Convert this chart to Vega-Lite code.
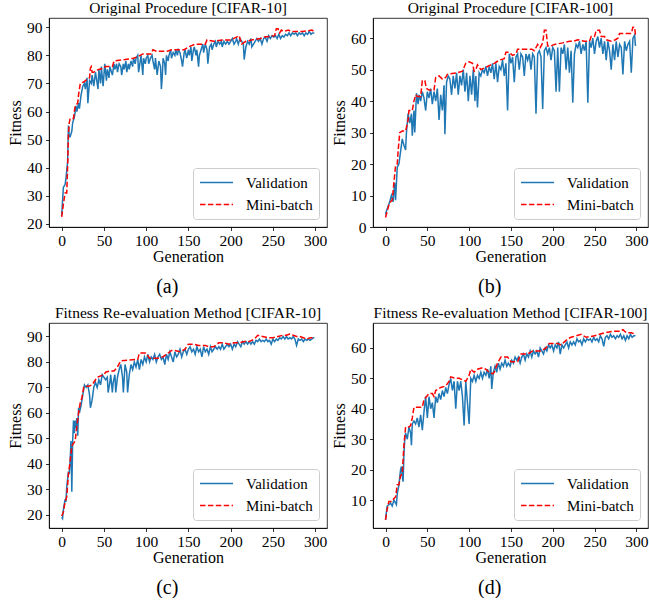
{
"$schema": "https://vega.github.io/schema/vega-lite/v6.json",
"padding": {"left": 7, "top": 0, "right": 0, "bottom": 0},
"background": "white",
"datasets": {
"aV": [{"g":0,"f":23},{"g":1,"f":28},{"g":2,"f":33},{"g":4,"f":34},{"g":5,"f":36},{"g":7,"f":42},{"g":8,"f":55},{"g":9,"f":51},{"g":10,"f":51},{"g":12,"f":53},{"g":13,"f":56},{"g":15,"f":58},{"g":17,"f":62},{"g":18,"f":60},{"g":20,"f":63},{"g":21,"f":61},{"g":23,"f":66},{"g":25,"f":69},{"g":27,"f":70},{"g":28,"f":68},{"g":30,"f":72},{"g":31,"f":63},{"g":33,"f":71},{"g":35,"f":70},{"g":36,"f":73},{"g":38,"f":69},{"g":40,"f":74},{"g":41,"f":72},{"g":43,"f":68},{"g":44,"f":75},{"g":46,"f":70},{"g":47,"f":76},{"g":49,"f":69},{"g":50,"f":73},{"g":51,"f":77},{"g":53,"f":71},{"g":54,"f":75},{"g":56,"f":72},{"g":57,"f":76},{"g":59,"f":74},{"g":60,"f":73},{"g":62,"f":77},{"g":63,"f":75},{"g":65,"f":77},{"g":66,"f":74},{"g":68,"f":77},{"g":70,"f":76},{"g":71,"f":73},{"g":73,"f":77},{"g":74,"f":75},{"g":76,"f":78},{"g":77,"f":74},{"g":79,"f":77},{"g":80,"f":75},{"g":82,"f":78},{"g":84,"f":76},{"g":85,"f":79},{"g":87,"f":77},{"g":88,"f":79},{"g":90,"f":80},{"g":91,"f":74},{"g":93,"f":78},{"g":94,"f":80},{"g":96,"f":73},{"g":97,"f":79},{"g":99,"f":77},{"g":100,"f":79},{"g":102,"f":80},{"g":103,"f":77},{"g":105,"f":79},{"g":107,"f":80},{"g":108,"f":78},{"g":110,"f":75},{"g":111,"f":79},{"g":113,"f":73},{"g":115,"f":78},{"g":117,"f":76},{"g":118,"f":68},{"g":119,"f":72},{"g":120,"f":79},{"g":122,"f":77},{"g":123,"f":73},{"g":124,"f":80},{"g":126,"f":78},{"g":127,"f":80},{"g":129,"f":82},{"g":130,"f":79},{"g":132,"f":81},{"g":134,"f":80},{"g":135,"f":82},{"g":137,"f":80},{"g":138,"f":82},{"g":140,"f":81},{"g":142,"f":78},{"g":143,"f":76},{"g":145,"f":81},{"g":146,"f":82},{"g":148,"f":79},{"g":150,"f":82},{"g":151,"f":80},{"g":153,"f":83},{"g":154,"f":78},{"g":156,"f":82},{"g":157,"f":83},{"g":159,"f":80},{"g":160,"f":82},{"g":162,"f":76},{"g":163,"f":80},{"g":165,"f":82},{"g":167,"f":84},{"g":168,"f":81},{"g":170,"f":84},{"g":172,"f":82},{"g":173,"f":77},{"g":175,"f":83},{"g":177,"f":84},{"g":178,"f":82},{"g":180,"f":84},{"g":182,"f":85},{"g":183,"f":83},{"g":185,"f":85},{"g":187,"f":84},{"g":189,"f":85},{"g":190,"f":83},{"g":192,"f":85},{"g":194,"f":84},{"g":196,"f":85},{"g":198,"f":84},{"g":200,"f":85},{"g":202,"f":86},{"g":204,"f":84},{"g":206,"f":85},{"g":207,"f":86},{"g":209,"f":84},{"g":211,"f":86},{"g":213,"f":85},{"g":215,"f":84},{"g":216,"f":78.5},{"g":218,"f":83},{"g":220,"f":85},{"g":222,"f":84},{"g":224,"f":86},{"g":225,"f":83},{"g":227,"f":84},{"g":229,"f":85},{"g":231,"f":86},{"g":233,"f":85},{"g":235,"f":86},{"g":237,"f":84},{"g":239,"f":86},{"g":241,"f":86.5},{"g":243,"f":85},{"g":245,"f":87},{"g":247,"f":86},{"g":249,"f":87},{"g":251,"f":86.5},{"g":253,"f":87},{"g":255,"f":86},{"g":257,"f":87.5},{"g":259,"f":86},{"g":261,"f":87},{"g":263,"f":86.5},{"g":265,"f":87.5},{"g":267,"f":87},{"g":269,"f":88},{"g":271,"f":87},{"g":273,"f":88},{"g":275,"f":87.5},{"g":277,"f":88},{"g":279,"f":87},{"g":281,"f":88},{"g":283,"f":87.5},{"g":285,"f":88},{"g":287,"f":87},{"g":289,"f":88},{"g":291,"f":87.5},{"g":293,"f":88.5},{"g":295,"f":87.5},{"g":297,"f":88},{"g":299,"f":88}],
"aM": [{"g":0,"f":22.5},{"g":2,"f":27},{"g":4,"f":31},{"g":6,"f":31},{"g":7,"f":40},{"g":8,"f":52},{"g":9,"f":56},{"g":10,"f":57.5},{"g":14,"f":57.5},{"g":15,"f":60},{"g":16,"f":62},{"g":19,"f":63},{"g":20,"f":66},{"g":22,"f":70},{"g":26,"f":70.5},{"g":28,"f":71},{"g":33,"f":72},{"g":34,"f":75.5},{"g":35,"f":76},{"g":36,"f":74},{"g":38,"f":74},{"g":40,"f":74.5},{"g":44,"f":75},{"g":50,"f":75.5},{"g":52,"f":76},{"g":60,"f":76},{"g":62,"f":78},{"g":75,"f":78.5},{"g":85,"f":79},{"g":90,"f":79.5},{"g":96,"f":80.5},{"g":106,"f":80.5},{"g":108,"f":82},{"g":112,"f":81.5},{"g":125,"f":81.5},{"g":130,"f":82},{"g":145,"f":82},{"g":150,"f":83},{"g":158,"f":84},{"g":170,"f":84},{"g":172,"f":85.5},{"g":180,"f":85},{"g":190,"f":85.5},{"g":200,"f":85.5},{"g":207,"f":86.5},{"g":210,"f":87},{"g":213,"f":84},{"g":218,"f":85},{"g":225,"f":85.5},{"g":235,"f":86},{"g":240,"f":86.5},{"g":252,"f":87},{"g":254,"f":89.5},{"g":256,"f":89.5},{"g":258,"f":88},{"g":260,"f":89},{"g":263,"f":88.5},{"g":268,"f":89},{"g":272,"f":88.5},{"g":285,"f":88.5},{"g":292,"f":88.8},{"g":296,"f":89},{"g":299,"f":88.5}],
"bV": [{"g":0,"f":4},{"g":1,"f":5},{"g":3,"f":6.5},{"g":5,"f":8},{"g":7,"f":10},{"g":9,"f":8},{"g":11,"f":14},{"g":12,"f":8.5},{"g":14,"f":19},{"g":16,"f":20},{"g":18,"f":24},{"g":20,"f":28},{"g":22,"f":26},{"g":24,"f":24.5},{"g":25,"f":30},{"g":27,"f":36},{"g":29,"f":33},{"g":31,"f":36},{"g":32,"f":29},{"g":34,"f":37},{"g":35,"f":30},{"g":37,"f":42.5},{"g":39,"f":39},{"g":40,"f":42},{"g":42,"f":40},{"g":44,"f":43},{"g":46,"f":41},{"g":48,"f":37},{"g":50,"f":43},{"g":52,"f":41},{"g":54,"f":44},{"g":56,"f":39},{"g":58,"f":43},{"g":60,"f":40},{"g":62,"f":44},{"g":64,"f":34},{"g":66,"f":42},{"g":68,"f":37},{"g":70,"f":45},{"g":71,"f":29.5},{"g":73,"f":46},{"g":75,"f":48},{"g":77,"f":47},{"g":79,"f":42},{"g":81,"f":48},{"g":83,"f":44},{"g":85,"f":49},{"g":87,"f":42},{"g":89,"f":48},{"g":91,"f":45},{"g":93,"f":50},{"g":95,"f":43},{"g":97,"f":49},{"g":99,"f":40},{"g":101,"f":48},{"g":103,"f":42},{"g":105,"f":50},{"g":107,"f":40},{"g":108,"f":48},{"g":110,"f":38},{"g":112,"f":49},{"g":114,"f":48},{"g":116,"f":50},{"g":118,"f":49},{"g":120,"f":51},{"g":122,"f":48},{"g":124,"f":51},{"g":126,"f":49},{"g":128,"f":52},{"g":130,"f":47},{"g":132,"f":52},{"g":134,"f":46},{"g":136,"f":51},{"g":138,"f":50},{"g":140,"f":53},{"g":142,"f":48},{"g":144,"f":52},{"g":146,"f":37},{"g":148,"f":55},{"g":150,"f":52},{"g":152,"f":54},{"g":154,"f":46},{"g":156,"f":54},{"g":158,"f":55},{"g":160,"f":50},{"g":162,"f":55},{"g":164,"f":54},{"g":166,"f":48},{"g":168,"f":55},{"g":170,"f":53},{"g":172,"f":55},{"g":174,"f":50},{"g":176,"f":55},{"g":178,"f":54},{"g":180,"f":36},{"g":182,"f":55},{"g":184,"f":56},{"g":186,"f":54},{"g":188,"f":37.5},{"g":190,"f":56},{"g":192,"f":57},{"g":194,"f":55},{"g":196,"f":57},{"g":198,"f":53},{"g":200,"f":57},{"g":202,"f":56},{"g":204,"f":43},{"g":206,"f":57},{"g":208,"f":43},{"g":210,"f":57},{"g":212,"f":55},{"g":214,"f":58},{"g":216,"f":50},{"g":218,"f":57},{"g":220,"f":49},{"g":222,"f":56},{"g":224,"f":39.5},{"g":226,"f":55},{"g":228,"f":58},{"g":230,"f":57},{"g":232,"f":59},{"g":234,"f":55},{"g":236,"f":58},{"g":238,"f":56},{"g":240,"f":59},{"g":242,"f":39.5},{"g":244,"f":59},{"g":246,"f":57},{"g":248,"f":60},{"g":250,"f":55},{"g":252,"f":59},{"g":254,"f":60.5},{"g":256,"f":57},{"g":258,"f":60},{"g":260,"f":55},{"g":262,"f":59},{"g":264,"f":53},{"g":266,"f":59},{"g":268,"f":56},{"g":270,"f":50},{"g":272,"f":58},{"g":274,"f":53},{"g":276,"f":59},{"g":278,"f":54},{"g":280,"f":58},{"g":282,"f":57},{"g":284,"f":48.5},{"g":286,"f":59},{"g":288,"f":56},{"g":290,"f":58},{"g":292,"f":59},{"g":294,"f":49},{"g":296,"f":60},{"g":298,"f":61},{"g":299,"f":57.5}],
"bM": [{"g":0,"f":3},{"g":2,"f":5},{"g":4,"f":7},{"g":6,"f":8},{"g":8,"f":8.5},{"g":10,"f":14},{"g":12,"f":19.5},{"g":14,"f":20},{"g":15,"f":24},{"g":17,"f":30},{"g":20,"f":30.5},{"g":24,"f":30.5},{"g":27,"f":34},{"g":28,"f":37},{"g":32,"f":37},{"g":34,"f":40},{"g":36,"f":42},{"g":38,"f":41.5},{"g":42,"f":41.5},{"g":44,"f":46.5},{"g":47,"f":46.5},{"g":49,"f":44},{"g":52,"f":43.5},{"g":58,"f":43.5},{"g":60,"f":47.5},{"g":64,"f":48},{"g":68,"f":47},{"g":72,"f":47.5},{"g":74,"f":48.5},{"g":86,"f":49},{"g":92,"f":49.5},{"g":96,"f":52},{"g":100,"f":52.5},{"g":104,"f":52},{"g":106,"f":49.5},{"g":108,"f":50},{"g":110,"f":51.5},{"g":114,"f":50},{"g":118,"f":50.5},{"g":122,"f":51},{"g":126,"f":51.5},{"g":130,"f":52},{"g":133,"f":52.5},{"g":136,"f":53},{"g":142,"f":53.5},{"g":144,"f":55.5},{"g":148,"f":55.5},{"g":150,"f":55},{"g":152,"f":54.5},{"g":156,"f":55},{"g":158,"f":56.5},{"g":162,"f":56.5},{"g":175,"f":56.5},{"g":178,"f":56},{"g":182,"f":58},{"g":185,"f":57},{"g":188,"f":58.5},{"g":190,"f":62.5},{"g":192,"f":62.5},{"g":194,"f":57.5},{"g":198,"f":57.5},{"g":202,"f":58},{"g":212,"f":58.5},{"g":220,"f":59},{"g":225,"f":59},{"g":230,"f":59.5},{"g":238,"f":59},{"g":244,"f":59},{"g":246,"f":60.5},{"g":250,"f":60.5},{"g":252,"f":62.5},{"g":256,"f":62.5},{"g":258,"f":60.5},{"g":262,"f":60.5},{"g":264,"f":59.5},{"g":270,"f":59},{"g":275,"f":59.5},{"g":278,"f":60},{"g":280,"f":61.5},{"g":294,"f":61.5},{"g":296,"f":63.5},{"g":298,"f":63.5},{"g":299,"f":61}],
"cV": [{"g":0,"f":19},{"g":1,"f":18.5},{"g":2,"f":22},{"g":4,"f":26},{"g":5,"f":25},{"g":6,"f":31},{"g":7,"f":34},{"g":8,"f":37},{"g":9,"f":36},{"g":10,"f":41},{"g":11,"f":49},{"g":12,"f":29},{"g":13,"f":49},{"g":14,"f":57},{"g":15,"f":52},{"g":16,"f":57},{"g":17,"f":54},{"g":18,"f":58},{"g":19,"f":51},{"g":20,"f":62},{"g":21,"f":60},{"g":23,"f":63},{"g":25,"f":67},{"g":27,"f":71},{"g":29,"f":70},{"g":31,"f":71},{"g":33,"f":67},{"g":34,"f":62},{"g":36,"f":65},{"g":38,"f":70},{"g":40,"f":72},{"g":42,"f":70},{"g":44,"f":73},{"g":46,"f":71},{"g":48,"f":75},{"g":50,"f":74},{"g":52,"f":73},{"g":54,"f":74},{"g":55,"f":68},{"g":57,"f":72},{"g":58,"f":75},{"g":60,"f":68},{"g":61,"f":72},{"g":63,"f":75},{"g":64,"f":68},{"g":66,"f":74},{"g":68,"f":77},{"g":70,"f":79},{"g":72,"f":74},{"g":73,"f":68},{"g":75,"f":79},{"g":77,"f":76},{"g":78,"f":68},{"g":80,"f":75},{"g":82,"f":79},{"g":84,"f":77},{"g":86,"f":80},{"g":88,"f":78},{"g":90,"f":81},{"g":92,"f":77},{"g":94,"f":81},{"g":96,"f":79},{"g":98,"f":82},{"g":100,"f":80},{"g":102,"f":83},{"g":104,"f":80},{"g":106,"f":82},{"g":108,"f":81},{"g":110,"f":83},{"g":112,"f":80},{"g":114,"f":82},{"g":116,"f":83},{"g":118,"f":81},{"g":120,"f":82},{"g":122,"f":79},{"g":124,"f":83},{"g":126,"f":81},{"g":128,"f":84},{"g":130,"f":82},{"g":132,"f":80},{"g":134,"f":84},{"g":136,"f":82},{"g":138,"f":83},{"g":140,"f":85},{"g":142,"f":82},{"g":144,"f":84},{"g":146,"f":85},{"g":148,"f":83},{"g":150,"f":85},{"g":152,"f":86},{"g":154,"f":84},{"g":156,"f":85},{"g":158,"f":83},{"g":160,"f":86},{"g":162,"f":84},{"g":164,"f":85},{"g":166,"f":82},{"g":168,"f":86},{"g":170,"f":84},{"g":172,"f":85},{"g":174,"f":83},{"g":176,"f":86},{"g":178,"f":84},{"g":180,"f":85},{"g":182,"f":86},{"g":184,"f":85},{"g":186,"f":86},{"g":188,"f":85},{"g":190,"f":87},{"g":192,"f":85},{"g":194,"f":86},{"g":196,"f":87},{"g":198,"f":86},{"g":200,"f":87},{"g":202,"f":85},{"g":204,"f":87},{"g":206,"f":86},{"g":208,"f":88},{"g":210,"f":87},{"g":212,"f":86},{"g":214,"f":88},{"g":216,"f":87},{"g":218,"f":88},{"g":220,"f":87},{"g":222,"f":88},{"g":224,"f":87},{"g":226,"f":88},{"g":228,"f":87},{"g":230,"f":88.5},{"g":232,"f":88},{"g":234,"f":89},{"g":236,"f":88},{"g":238,"f":88.5},{"g":240,"f":88},{"g":242,"f":89},{"g":244,"f":88},{"g":246,"f":88.5},{"g":248,"f":87},{"g":250,"f":89},{"g":252,"f":88},{"g":254,"f":89},{"g":256,"f":88.5},{"g":258,"f":89.5},{"g":260,"f":89},{"g":262,"f":90},{"g":264,"f":89},{"g":266,"f":90},{"g":268,"f":89},{"g":270,"f":89.5},{"g":272,"f":89},{"g":274,"f":90},{"g":276,"f":89},{"g":278,"f":86.5},{"g":280,"f":89},{"g":282,"f":88.5},{"g":284,"f":89},{"g":286,"f":88},{"g":288,"f":89},{"g":290,"f":88.5},{"g":292,"f":89},{"g":294,"f":88.5},{"g":296,"f":89},{"g":298,"f":89.5},{"g":299,"f":89.5}],
"cM": [{"g":0,"f":19.5},{"g":2,"f":21},{"g":4,"f":25},{"g":6,"f":27},{"g":8,"f":36},{"g":10,"f":41},{"g":12,"f":47},{"g":14,"f":48},{"g":16,"f":49},{"g":18,"f":55},{"g":20,"f":60},{"g":22,"f":64},{"g":24,"f":66},{"g":26,"f":70},{"g":28,"f":70.5},{"g":32,"f":70.5},{"g":36,"f":71},{"g":40,"f":73},{"g":42,"f":74},{"g":46,"f":74.5},{"g":50,"f":75},{"g":52,"f":76},{"g":58,"f":76.5},{"g":62,"f":76.5},{"g":66,"f":78},{"g":70,"f":80.5},{"g":90,"f":81},{"g":92,"f":83.5},{"g":100,"f":83.5},{"g":104,"f":81.5},{"g":114,"f":81.5},{"g":120,"f":82},{"g":124,"f":83},{"g":130,"f":84.5},{"g":134,"f":84.5},{"g":140,"f":84},{"g":146,"f":85},{"g":150,"f":87},{"g":156,"f":87},{"g":162,"f":86.5},{"g":170,"f":86.5},{"g":174,"f":86},{"g":180,"f":86},{"g":186,"f":87.5},{"g":192,"f":87.5},{"g":198,"f":87},{"g":204,"f":87.5},{"g":210,"f":87.5},{"g":216,"f":88},{"g":222,"f":88},{"g":228,"f":89},{"g":232,"f":90.5},{"g":238,"f":90},{"g":244,"f":89.5},{"g":250,"f":89.5},{"g":256,"f":90},{"g":262,"f":90.5},{"g":266,"f":90.5},{"g":270,"f":91},{"g":274,"f":90.5},{"g":278,"f":90},{"g":282,"f":90},{"g":286,"f":89.5},{"g":290,"f":89},{"g":294,"f":89.5},{"g":299,"f":89.5}],
"dV": [{"g":0,"f":3.5},{"g":1,"f":6},{"g":2,"f":8},{"g":4,"f":8.5},{"g":6,"f":9},{"g":8,"f":8},{"g":10,"f":10},{"g":12,"f":9},{"g":13,"f":8.5},{"g":14,"f":12},{"g":16,"f":15},{"g":18,"f":20},{"g":19,"f":21},{"g":20,"f":18},{"g":21,"f":16},{"g":22,"f":25},{"g":23,"f":30},{"g":24,"f":32},{"g":26,"f":30},{"g":28,"f":34},{"g":30,"f":32},{"g":31,"f":28},{"g":32,"f":35},{"g":34,"f":36},{"g":36,"f":35},{"g":38,"f":37},{"g":40,"f":34},{"g":42,"f":38},{"g":44,"f":33},{"g":46,"f":39},{"g":48,"f":44},{"g":50,"f":37},{"g":52,"f":44},{"g":54,"f":40},{"g":56,"f":42},{"g":58,"f":37},{"g":60,"f":44},{"g":62,"f":42},{"g":64,"f":45},{"g":66,"f":43},{"g":68,"f":46},{"g":70,"f":44},{"g":72,"f":47},{"g":74,"f":45},{"g":76,"f":48},{"g":78,"f":50},{"g":80,"f":46},{"g":82,"f":49},{"g":84,"f":40},{"g":86,"f":49},{"g":88,"f":46},{"g":90,"f":49},{"g":92,"f":44},{"g":94,"f":34.5},{"g":96,"f":49},{"g":98,"f":42},{"g":100,"f":35},{"g":102,"f":50},{"g":104,"f":49},{"g":106,"f":51},{"g":108,"f":49},{"g":110,"f":51},{"g":112,"f":50},{"g":114,"f":52},{"g":116,"f":50},{"g":118,"f":52},{"g":120,"f":51},{"g":122,"f":53},{"g":124,"f":50},{"g":126,"f":54},{"g":127,"f":46.5},{"g":129,"f":52},{"g":131,"f":54},{"g":133,"f":52},{"g":135,"f":55},{"g":137,"f":53},{"g":139,"f":55},{"g":141,"f":54},{"g":143,"f":56},{"g":145,"f":54},{"g":147,"f":55},{"g":149,"f":54},{"g":151,"f":56},{"g":153,"f":55},{"g":155,"f":57},{"g":157,"f":56},{"g":159,"f":57},{"g":161,"f":55},{"g":163,"f":57},{"g":165,"f":58},{"g":167,"f":56},{"g":169,"f":58},{"g":171,"f":57},{"g":173,"f":59},{"g":175,"f":57},{"g":177,"f":59},{"g":179,"f":58},{"g":181,"f":59},{"g":183,"f":57},{"g":185,"f":60},{"g":187,"f":59},{"g":189,"f":58},{"g":191,"f":60},{"g":193,"f":59},{"g":195,"f":61},{"g":197,"f":60},{"g":199,"f":61},{"g":201,"f":59},{"g":203,"f":61},{"g":205,"f":60},{"g":207,"f":62},{"g":209,"f":58},{"g":211,"f":61},{"g":213,"f":60},{"g":215,"f":61},{"g":217,"f":62},{"g":219,"f":60},{"g":221,"f":62},{"g":223,"f":61},{"g":225,"f":62},{"g":227,"f":61},{"g":229,"f":63},{"g":231,"f":62},{"g":233,"f":62.5},{"g":235,"f":61},{"g":237,"f":63},{"g":239,"f":62},{"g":241,"f":63},{"g":243,"f":62.5},{"g":245,"f":63},{"g":247,"f":62},{"g":249,"f":63.5},{"g":251,"f":62.5},{"g":253,"f":63},{"g":255,"f":62},{"g":257,"f":64},{"g":259,"f":63},{"g":261,"f":60.5},{"g":263,"f":63.5},{"g":265,"f":64},{"g":267,"f":63},{"g":269,"f":64.5},{"g":271,"f":63.5},{"g":273,"f":64},{"g":275,"f":63},{"g":277,"f":64},{"g":279,"f":63.5},{"g":281,"f":64.5},{"g":283,"f":63},{"g":285,"f":64},{"g":287,"f":62.5},{"g":289,"f":64},{"g":291,"f":63},{"g":293,"f":64.5},{"g":295,"f":63.5},{"g":297,"f":64},{"g":299,"f":64}],
"dM": [{"g":0,"f":3.5},{"g":2,"f":7},{"g":4,"f":9.5},{"g":8,"f":9.5},{"g":10,"f":10.5},{"g":12,"f":11},{"g":14,"f":15},{"g":16,"f":15},{"g":18,"f":18},{"g":20,"f":18.5},{"g":22,"f":28},{"g":24,"f":34},{"g":28,"f":34},{"g":30,"f":34.5},{"g":32,"f":37},{"g":34,"f":40.5},{"g":44,"f":40.5},{"g":46,"f":43},{"g":52,"f":45},{"g":56,"f":45},{"g":58,"f":44},{"g":60,"f":46},{"g":66,"f":47},{"g":72,"f":47.5},{"g":76,"f":49},{"g":78,"f":50.5},{"g":84,"f":50},{"g":88,"f":50},{"g":92,"f":49.5},{"g":96,"f":49},{"g":100,"f":51},{"g":102,"f":53},{"g":106,"f":52},{"g":110,"f":53},{"g":116,"f":53.5},{"g":120,"f":53},{"g":124,"f":52},{"g":128,"f":51.5},{"g":130,"f":52},{"g":134,"f":55},{"g":138,"f":57},{"g":146,"f":57},{"g":150,"f":55.5},{"g":158,"f":55.5},{"g":162,"f":58},{"g":170,"f":58},{"g":176,"f":59},{"g":186,"f":59},{"g":192,"f":60},{"g":196,"f":61.5},{"g":206,"f":61.5},{"g":210,"f":61},{"g":214,"f":62},{"g":218,"f":63},{"g":222,"f":63.5},{"g":228,"f":64},{"g":234,"f":64.5},{"g":240,"f":63.5},{"g":250,"f":64},{"g":256,"f":64.5},{"g":262,"f":65},{"g":272,"f":65.5},{"g":280,"f":65.5},{"g":284,"f":66},{"g":288,"f":65},{"g":294,"f":65},{"g":299,"f":64.5}]
},
"vconcat": [
 {"hconcat": [
  {"vconcat": [
   {"width": 278, "height": 209,
    "title": {"text": "Original Procedure [CIFAR-10]", "frame": "group", "offset": 2},
    "encoding": {
     "x": {"field": "g", "type": "quantitative", "title": "Generation", "scale": {"domain": [-15, 314], "nice": false, "zero": false}, "axis": {"values": [0,50,100,150,200,250,300]}},
     "y": {"field": "f", "type": "quantitative", "title": "Fitness", "scale": {"domain": [18.9, 93.3], "nice": false, "zero": false}, "axis": {"values": [20,30,40,50,60,70,80,90]}}
    },
    "layer": [
     {"data": {"name": "aV"}, "mark": {"type": "line", "strokeWidth": 1.5},
      "encoding": {
       "color": {"datum": "Validation", "type": "nominal", "scale": {"domain": ["Validation", "Mini-batch"], "range": ["#1f77b4", "#ff0000"]}, "legend": {"title": null}},
       "strokeDash": {"datum": "Validation", "type": "nominal", "scale": {"domain": ["Validation", "Mini-batch"], "range": [[1, 0], [5.5, 2.4]]}, "legend": {"title": null}}
      }},
     {"data": {"name": "aM"}, "mark": {"type": "line", "strokeWidth": 1.5},
      "encoding": {
       "color": {"datum": "Mini-batch", "type": "nominal"},
       "strokeDash": {"datum": "Mini-batch", "type": "nominal"}
      }}
    ]}
  ], "title": {"text": "(a)", "orient": "bottom", "fontSize": 20, "offset": 12, "anchor": "middle", "frame": "bounds"},
  "resolve": {"scale": {"color": "independent", "strokeDash": "independent"}, "legend": {"color": "independent", "strokeDash": "independent"}}},
  {"vconcat": [
   {"width": 275, "height": 209,
    "title": {"text": "Original Procedure [CIFAR-100]", "frame": "group", "offset": 2},
    "encoding": {
     "x": {"field": "g", "type": "quantitative", "title": "Generation", "scale": {"domain": [-15, 314], "nice": false, "zero": false}, "axis": {"values": [0,50,100,150,200,250,300]}},
     "y": {"field": "f", "type": "quantitative", "title": "Fitness", "scale": {"domain": [0, 66.4], "nice": false, "zero": false}, "axis": {"values": [0,10,20,30,40,50,60]}}
    },
    "layer": [
     {"data": {"name": "bV"}, "mark": {"type": "line", "strokeWidth": 1.5},
      "encoding": {
       "color": {"datum": "Validation", "type": "nominal", "scale": {"domain": ["Validation", "Mini-batch"], "range": ["#1f77b4", "#ff0000"]}, "legend": {"title": null}},
       "strokeDash": {"datum": "Validation", "type": "nominal", "scale": {"domain": ["Validation", "Mini-batch"], "range": [[1, 0], [5.5, 2.4]]}, "legend": {"title": null}}
      }},
     {"data": {"name": "bM"}, "mark": {"type": "line", "strokeWidth": 1.5},
      "encoding": {
       "color": {"datum": "Mini-batch", "type": "nominal"},
       "strokeDash": {"datum": "Mini-batch", "type": "nominal"}
      }}
    ]}
  ], "title": {"text": "(b)", "orient": "bottom", "fontSize": 20, "offset": 12, "anchor": "middle", "frame": "bounds"},
  "resolve": {"scale": {"color": "independent", "strokeDash": "independent"}, "legend": {"color": "independent", "strokeDash": "independent"}}}
 ], "spacing": 3,
 "resolve": {"scale": {"color": "independent", "strokeDash": "independent"}, "legend": {"color": "independent", "strokeDash": "independent"}}},
 {"hconcat": [
  {"vconcat": [
   {"width": 278, "height": 205,
    "title": {"text": "Fitness Re-evaluation Method [CIFAR-10]", "frame": "group", "offset": 2},
    "encoding": {
     "x": {"field": "g", "type": "quantitative", "title": "Generation", "scale": {"domain": [-15, 314], "nice": false, "zero": false}, "axis": {"values": [0,50,100,150,200,250,300]}},
     "y": {"field": "f", "type": "quantitative", "title": "Fitness", "scale": {"domain": [14.8, 95.3], "nice": false, "zero": false}, "axis": {"values": [20,30,40,50,60,70,80,90]}}
    },
    "layer": [
     {"data": {"name": "cV"}, "mark": {"type": "line", "strokeWidth": 1.5},
      "encoding": {
       "color": {"datum": "Validation", "type": "nominal", "scale": {"domain": ["Validation", "Mini-batch"], "range": ["#1f77b4", "#ff0000"]}, "legend": {"title": null}},
       "strokeDash": {"datum": "Validation", "type": "nominal", "scale": {"domain": ["Validation", "Mini-batch"], "range": [[1, 0], [5.5, 2.4]]}, "legend": {"title": null}}
      }},
     {"data": {"name": "cM"}, "mark": {"type": "line", "strokeWidth": 1.5},
      "encoding": {
       "color": {"datum": "Mini-batch", "type": "nominal"},
       "strokeDash": {"datum": "Mini-batch", "type": "nominal"}
      }}
    ]}
  ], "title": {"text": "(c)", "orient": "bottom", "fontSize": 20, "offset": 12, "anchor": "middle", "frame": "bounds"},
  "resolve": {"scale": {"color": "independent", "strokeDash": "independent"}, "legend": {"color": "independent", "strokeDash": "independent"}}},
  {"vconcat": [
   {"width": 275, "height": 205,
    "title": {"text": "Fitness Re-evaluation Method [CIFAR-100]", "frame": "group", "offset": 2},
    "encoding": {
     "x": {"field": "g", "type": "quantitative", "title": "Generation", "scale": {"domain": [-15, 314], "nice": false, "zero": false}, "axis": {"values": [0,50,100,150,200,250,300]}},
     "y": {"field": "f", "type": "quantitative", "title": "Fitness", "scale": {"domain": [0.8, 68.2], "nice": false, "zero": false}, "axis": {"values": [10,20,30,40,50,60]}}
    },
    "layer": [
     {"data": {"name": "dV"}, "mark": {"type": "line", "strokeWidth": 1.5},
      "encoding": {
       "color": {"datum": "Validation", "type": "nominal", "scale": {"domain": ["Validation", "Mini-batch"], "range": ["#1f77b4", "#ff0000"]}, "legend": {"title": null}},
       "strokeDash": {"datum": "Validation", "type": "nominal", "scale": {"domain": ["Validation", "Mini-batch"], "range": [[1, 0], [5.5, 2.4]]}, "legend": {"title": null}}
      }},
     {"data": {"name": "dM"}, "mark": {"type": "line", "strokeWidth": 1.5},
      "encoding": {
       "color": {"datum": "Mini-batch", "type": "nominal"},
       "strokeDash": {"datum": "Mini-batch", "type": "nominal"}
      }}
    ]}
  ], "title": {"text": "(d)", "orient": "bottom", "fontSize": 20, "offset": 12, "anchor": "middle", "frame": "bounds"},
  "resolve": {"scale": {"color": "independent", "strokeDash": "independent"}, "legend": {"color": "independent", "strokeDash": "independent"}}}
 ], "spacing": 3,
 "resolve": {"scale": {"color": "independent", "strokeDash": "independent"}, "legend": {"color": "independent", "strokeDash": "independent"}}}
],
"spacing": 8,
"resolve": {"scale": {"color": "independent", "strokeDash": "independent"}, "legend": {"color": "independent", "strokeDash": "independent"}},
"config": {
 "font": "Liberation Serif",
 "view": {"stroke": "black", "strokeWidth": 0.8},
 "axis": {"grid": false, "domainColor": "black", "domainWidth": 0.8, "tickColor": "black", "tickWidth": 0.8, "tickSize": 3.5, "labelFont": "Liberation Serif", "labelFontSize": 15.5, "labelColor": "black", "labelOverlap": false, "titleFont": "Liberation Serif", "titleFontSize": 16, "titleFontWeight": "normal", "titleColor": "black"},
 "axisX": {"titlePadding": -0.5, "labelPadding": 3},
 "axisY": {"titlePadding": 3, "labelPadding": 3.5},
 "legend": {"orient": "bottom-right", "offset": 8, "fillColor": "white", "strokeColor": "#cccccc", "cornerRadius": 3, "padding": 6, "symbolType": "M-1,0H3.4", "symbolSize": 225, "symbolStrokeWidth": 1.5, "labelFont": "Liberation Serif", "labelFontSize": 15, "labelColor": "black", "labelOffset": 30, "rowPadding": 5},
 "title": {"font": "Liberation Serif", "fontSize": 15.5, "fontWeight": "normal", "color": "black"}
}
}
